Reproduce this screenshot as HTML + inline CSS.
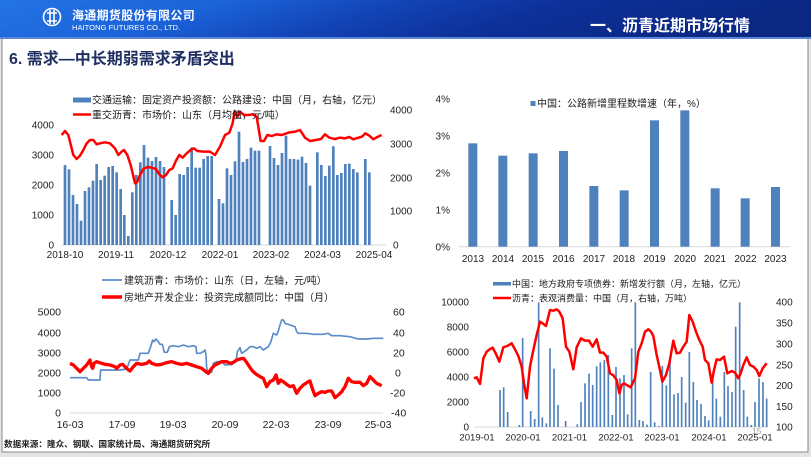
<!DOCTYPE html>
<html><head><meta charset="utf-8"><style>
html,body{margin:0;padding:0;width:811px;height:457px;overflow:hidden;background:#e4e4e4;}
svg{display:block;}
text{font-family:"Liberation Sans","Noto Sans CJK SC",sans-serif;}
.ax{font-size:10px;fill:#222;}
.lg{font-size:10px;fill:#1a1a1a;font-family:"Liberation Sans","Noto Sans CJK SC",sans-serif;}
</style></head><body>
<svg width="811" height="457" viewBox="0 0 811 457" xmlns="http://www.w3.org/2000/svg">
<defs>
<linearGradient id="hg" x1="0" y1="0" x2="1" y2="0.15">
<stop offset="0" stop-color="#2374e4"/>
<stop offset="0.28" stop-color="#1b63d9"/>
<stop offset="0.5" stop-color="#1243b5"/>
<stop offset="0.7" stop-color="#0d3099"/>
<stop offset="1" stop-color="#0a2782"/>
</linearGradient>
</defs>
<!-- page frame -->
<rect x="0" y="0" width="811" height="457" fill="#e4e4e4"/>
<rect x="2" y="38" width="806" height="414" fill="#ffffff" stroke="#8a8a8a" stroke-width="1"/>
<!-- header -->
<rect x="0" y="0" width="811" height="38" fill="url(#hg)"/>
<rect x="0" y="37" width="811" height="2" fill="#5d86d6"/>
<g stroke="#fff" fill="none" stroke-width="1.6">
<circle cx="52" cy="17" r="8.5"/>
<path d="M47 13 H57 M47 21 H57 M50 10 V24 M54 10 V24"/>
</g>
<text x="72" y="19.5" font-size="12" font-weight="bold" fill="#fff" font-family="'Noto Serif CJK SC',serif" letter-spacing="0.3">海通期货股份有限公司</text>
<text x="72" y="30" font-size="7.6" fill="#fff" font-family="'Liberation Sans',sans-serif">HAITONG FUTURES CO., LTD.</text>
<text x="590" y="31" font-size="16" fill="#fff" font-family="'Noto Serif CJK SC',serif" font-weight="bold">一、沥青近期市场行情</text>
<!-- title -->
<text x="9" y="64" font-size="16" font-weight="bold" fill="#1f2f62" font-family="'Liberation Serif','Noto Serif CJK SC',serif">6. 需求—中长期弱需求矛盾突出</text>

<!-- ============ TOP LEFT ============ -->
<line x1="62" y1="245" x2="386" y2="245" stroke="#d9d9d9" stroke-width="1"/>
<g transform="translate(40 85) scale(0.33333)" fill="#4f81bd">
<rect x="71" y="240" width="8" height="240"/><rect x="83" y="253" width="8" height="227"/><rect x="95" y="330" width="8" height="150"/><rect x="107" y="357" width="8" height="123"/><rect x="119" y="407" width="8" height="73"/><rect x="131" y="318" width="8" height="162"/><rect x="143" y="307" width="8" height="173"/><rect x="155" y="287" width="8" height="193"/><rect x="166" y="237" width="8" height="243"/><rect x="178" y="285" width="8" height="195"/><rect x="190" y="272" width="8" height="208"/><rect x="202" y="246" width="8" height="234"/><rect x="214" y="243" width="8" height="237"/><rect x="226" y="262" width="8" height="218"/><rect x="238" y="312" width="8" height="168"/><rect x="249" y="390" width="8" height="90"/><rect x="261" y="453" width="8" height="27"/><rect x="273" y="322" width="8" height="158"/><rect x="285" y="270" width="8" height="210"/><rect x="297" y="232" width="8" height="248"/><rect x="308" y="180" width="8" height="300"/><rect x="320" y="218" width="8" height="262"/><rect x="332" y="228" width="8" height="252"/><rect x="344" y="216" width="8" height="264"/><rect x="356" y="228" width="8" height="252"/><rect x="368" y="246" width="8" height="234"/>
<rect x="391" y="345" width="8" height="135"/><rect x="403" y="390" width="8" height="90"/><rect x="415" y="267" width="8" height="213"/><rect x="427" y="270" width="8" height="210"/><rect x="439" y="246" width="8" height="234"/><rect x="451" y="187" width="8" height="293"/><rect x="463" y="248" width="8" height="232"/><rect x="475" y="248" width="8" height="232"/><rect x="487" y="222" width="8" height="258"/><rect x="499" y="213" width="8" height="267"/><rect x="511" y="213" width="8" height="267"/>
<rect x="533" y="342" width="8" height="138"/><rect x="545" y="355" width="8" height="125"/><rect x="557" y="250" width="8" height="230"/><rect x="569" y="270" width="8" height="210"/><rect x="581" y="229" width="8" height="251"/><rect x="593" y="140" width="8" height="340"/><rect x="605" y="231" width="8" height="249"/><rect x="617" y="222" width="8" height="258"/><rect x="629" y="188" width="8" height="292"/><rect x="641" y="197" width="8" height="283"/><rect x="653" y="197" width="8" height="283"/>
<rect x="686" y="183" width="8" height="297"/><rect x="698" y="219" width="8" height="261"/><rect x="710" y="240" width="8" height="240"/><rect x="722" y="204" width="8" height="276"/><rect x="734" y="152" width="8" height="328"/><rect x="746" y="222" width="8" height="258"/><rect x="758" y="222" width="8" height="258"/><rect x="770" y="224" width="8" height="256"/><rect x="782" y="215" width="8" height="265"/><rect x="794" y="234" width="8" height="246"/><rect x="806" y="302" width="8" height="178"/>
<rect x="828" y="202" width="8" height="278"/><rect x="840" y="240" width="8" height="240"/><rect x="852" y="273" width="8" height="207"/><rect x="864" y="242" width="8" height="238"/><rect x="876" y="184" width="8" height="296"/><rect x="888" y="270" width="8" height="210"/><rect x="900" y="264" width="8" height="216"/><rect x="912" y="237" width="8" height="243"/><rect x="924" y="236" width="8" height="244"/><rect x="936" y="252" width="8" height="228"/><rect x="948" y="262" width="8" height="218"/>
<rect x="972" y="222" width="8" height="258"/><rect x="984" y="262" width="8" height="218"/>
<path fill="none" stroke="#ff0000" stroke-width="7.5" stroke-linejoin="round" d="M65,150 L75,138 L85,150 L95,190 L100,210 L110,222 L120,212 L130,195 L140,175 L150,165 L160,165 L170,178 L180,175 L195,172 L210,175 L225,190 L235,210 L245,200 L252,195 L262,210 L272,240 L285,295 L292,290 L300,270 L310,252 L322,246 L335,248 L348,252 L358,268 L368,277 L378,270 L388,255 L398,250 L408,227 L418,210 L428,218 L440,205 L452,195 L462,190 L472,198 L490,200 L510,200 L525,210 L540,185 L555,150 L568,143 L578,115 L584,78 L592,95 L600,80 L612,90 L625,90 L638,88 L650,95 L662,168 L672,168 L682,150 L695,153 L710,148 L725,150 L745,143 L765,140 L780,135 L795,158 L810,168 L828,165 L843,162 L855,148 L868,158 L885,162 L900,158 L915,160 L928,156 L940,163 L955,158 L966,155 L976,145 L988,152 L1000,163 L1012,156 L1025,150"/>
</g>
<g class="ax" text-anchor="end">
<text x="54" y="128.5">4000</text><text x="54" y="158.5">3000</text><text x="54" y="188.5">2000</text><text x="54" y="218.5">1000</text><text x="54" y="248.5">0</text>
</g>
<g class="ax">
<text x="390" y="113.5">4000</text><text x="390" y="147.5">3000</text><text x="390" y="181.5">2000</text><text x="390" y="214.5">1000</text><text x="393" y="248.5">0</text>
</g>
<g class="ax" text-anchor="middle">
<text x="65" y="258">2018-10</text><text x="116" y="258">2019-11</text><text x="168" y="258">2020-12</text><text x="220" y="258">2022-01</text><text x="271" y="258">2023-02</text><text x="322.5" y="258">2024-03</text><text x="374" y="258">2025-04</text>
</g>
<rect x="73" y="97.5" width="18" height="5" fill="#4f81bd"/>
<text class="lg" x="92" y="103.5">交通运输：固定资产投资额：公路建设：中国（月，右轴，亿元）</text>
<line x1="73" y1="114.5" x2="91" y2="114.5" stroke="#ff0000" stroke-width="2.5"/>
<text class="lg" x="92" y="118.5">重交沥青：市场价：山东（月均值，元/吨）</text>

<!-- ============ BOTTOM LEFT ============ -->
<line x1="70" y1="413" x2="383" y2="413" stroke="#d9d9d9" stroke-width="1"/>
<g transform="translate(30 265) scale(0.33333)" fill="none" stroke-linejoin="round">
<path stroke="#5b8bc9" stroke-width="5" d="M120,338 L170,338 L175,345 L210,345 L212,315 L270,315 L290,312 L300,285 L325,285 L330,265 L355,265 L362,245 L368,225 L372,230 L378,222 L385,230 L390,238 L397,238 L403,262 L412,262 L418,245 L430,242 L445,245 L460,240 L475,245 L490,242 L498,245 L500,265 L510,265 L520,260 L525,255 L528,270 L530,310 L535,322 L545,322 L550,295 L560,290 L575,290 L585,300 L600,298 L605,300 L610,295 L618,290 L622,260 L630,248 L635,265 L650,255 L660,245 L670,245 L680,250 L690,245 L700,255 L715,245 L722,232 L730,205 L740,210 L745,198 L750,180 L755,165 L760,165 L765,175 L780,180 L795,185 L800,200 L805,205 L830,205 L850,208 L880,208 L895,205 L905,212 L930,212 L960,215 L985,222 L1010,222 L1030,220 L1060,220"/>
<path stroke="#ff0000" stroke-width="10" d="M120,295 L130,300 L140,310 L150,320 L160,310 L170,300 L180,285 L185,305 L188,310 L192,295 L200,290 L215,295 L225,298 L240,300 L255,305 L260,310 L270,300 L278,298 L285,305 L295,315 L300,318 L310,305 L320,295 L335,298 L350,295 L358,288 L365,295 L380,300 L395,298 L410,293 L425,290 L440,295 L455,298 L470,295 L485,300 L500,305 L515,310 L530,322 L535,325 L545,310 L555,300 L565,295 L575,290 L590,290 L600,295 L610,292 L620,285 L630,282 L640,280 L645,285 L655,300 L665,315 L675,325 L690,335 L700,340 L710,365 L720,350 L730,345 L738,330 L745,355 L752,345 L760,350 L770,358 L780,365 L790,362 L800,385 L810,370 L820,360 L835,350 L840,348 L845,365 L855,392 L865,385 L875,380 L885,382 L895,378 L905,378 L915,398 L925,390 L935,380 L945,365 L955,340 L965,350 L975,352 L990,352 L1000,362 L1010,355 L1020,335 L1030,345 L1040,355 L1055,362"/>
</g>
<g class="ax" text-anchor="end" style="font-size:10.5px">
<text x="61" y="315.5">5000</text><text x="61" y="336.5">4000</text><text x="61" y="356.5">3000</text><text x="61" y="376.5">2000</text><text x="61" y="396.5">1000</text><text x="61" y="416.5">0</text>
</g>
<g class="ax" style="font-size:10.5px">
<text x="393" y="315.5">60</text><text x="393" y="336.5">40</text><text x="393" y="356.5">20</text><text x="395" y="376.5">0</text><text x="390" y="396.5">-20</text><text x="391" y="416.5">-40</text>
</g>
<g class="ax" text-anchor="middle" style="font-size:10.5px">
<text x="70" y="428">16-03</text><text x="122" y="428">17-09</text><text x="173" y="428">19-03</text><text x="225" y="428">20-09</text><text x="276" y="428">22-03</text><text x="328" y="428">23-09</text><text x="378" y="428">25-03</text>
</g>
<line x1="102" y1="280" x2="122" y2="280" stroke="#5b8bc9" stroke-width="1.7"/>
<text class="lg" x="124" y="284">建筑沥青：市场价：山东（日，左轴，元/吨）</text>
<line x1="102" y1="297" x2="122" y2="297" stroke="#ff0000" stroke-width="3.5"/>
<text class="lg" x="124" y="301">房地产开发企业：投资完成额同比：中国（月）</text>

<!-- ============ TOP RIGHT ============ -->
<line x1="459" y1="246.7" x2="790" y2="246.7" stroke="#d9d9d9" stroke-width="1"/>
<g transform="translate(420 85) scale(0.33333)" fill="#4f81bd">
<rect x="145" y="175" width="27" height="310"/><rect x="235" y="212" width="27" height="273"/><rect x="326" y="205" width="27" height="280"/><rect x="417" y="198" width="27" height="287"/><rect x="508" y="303" width="27" height="182"/><rect x="599" y="316" width="27" height="169"/><rect x="690" y="106" width="27" height="379"/><rect x="781" y="76" width="27" height="409"/><rect x="872" y="310" width="27" height="175"/><rect x="962" y="340" width="27" height="145"/><rect x="1053" y="306" width="27" height="179"/>
</g>
<g class="ax" text-anchor="end">
<text x="450" y="102.5">4%</text><text x="450" y="139.5">3%</text><text x="450" y="176.5">2%</text><text x="450" y="213.5">1%</text><text x="450" y="250.5">0%</text>
</g>
<g class="ax" text-anchor="middle">
<text x="473" y="262">2013</text><text x="503" y="262">2014</text><text x="533" y="262">2015</text><text x="563.5" y="262">2016</text><text x="594" y="262">2017</text><text x="624" y="262">2018</text><text x="654.5" y="262">2019</text><text x="685" y="262">2020</text><text x="715" y="262">2021</text><text x="745.5" y="262">2022</text><text x="775.5" y="262">2023</text>
</g>
<rect x="530.5" y="101" width="5" height="5" fill="#4f81bd"/>
<text class="lg" x="537" y="107">中国：公路新增里程数增速（年，%）</text>

<!-- ============ BOTTOM RIGHT ============ -->
<line x1="474" y1="427" x2="768" y2="427" stroke="#d9d9d9" stroke-width="1"/>
<g transform="translate(420 270) scale(0.33333)" fill="#4f81bd">
<rect x="237.5" y="360" width="5" height="111"/><rect x="248.5" y="352" width="5" height="119"/><rect x="260.5" y="426" width="5" height="45"/><rect x="295.5" y="465" width="5" height="6"/><rect x="305.5" y="204" width="5" height="267"/><rect x="329.5" y="423" width="5" height="48"/><rect x="341.5" y="447" width="5" height="24"/><rect x="353.5" y="97" width="5" height="374"/><rect x="364.5" y="442" width="5" height="29"/><rect x="376.5" y="460" width="5" height="11"/><rect x="387.5" y="235" width="5" height="236"/><rect x="399.5" y="296" width="5" height="175"/><rect x="411.5" y="405" width="5" height="66"/><rect x="434.5" y="453" width="5" height="18"/><rect x="469.5" y="463" width="5" height="8"/><rect x="480.5" y="396" width="5" height="75"/><rect x="492.5" y="340" width="5" height="131"/><rect x="504.5" y="311" width="5" height="160"/><rect x="515.5" y="345" width="5" height="126"/><rect x="527.5" y="289" width="5" height="182"/><rect x="538.5" y="277" width="5" height="194"/><rect x="550.5" y="270" width="5" height="201"/><rect x="562.5" y="255" width="5" height="216"/><rect x="574.5" y="435" width="5" height="36"/><rect x="585.5" y="291" width="5" height="180"/><rect x="597.5" y="325" width="5" height="146"/><rect x="609.5" y="315" width="5" height="156"/><rect x="620.5" y="433" width="5" height="38"/><rect x="632.5" y="235" width="5" height="236"/><rect x="643.5" y="97" width="5" height="374"/><rect x="655.5" y="450" width="5" height="21"/><rect x="666.5" y="453" width="5" height="18"/><rect x="678.5" y="464" width="5" height="7"/><rect x="689.5" y="306" width="5" height="165"/><rect x="701.5" y="457" width="5" height="14"/><rect x="713.5" y="468" width="5" height="3"/><rect x="724.5" y="288" width="5" height="183"/><rect x="736.5" y="346" width="5" height="125"/><rect x="747.5" y="272" width="5" height="199"/><rect x="759.5" y="373" width="5" height="98"/><rect x="771.5" y="369" width="5" height="102"/><rect x="782.5" y="321" width="5" height="150"/><rect x="794.5" y="398" width="5" height="73"/><rect x="805.5" y="246" width="5" height="225"/><rect x="817.5" y="336" width="5" height="135"/><rect x="828.5" y="390" width="5" height="81"/><rect x="840.5" y="402" width="5" height="69"/><rect x="852.5" y="438" width="5" height="33"/><rect x="863.5" y="451" width="5" height="20"/><rect x="875.5" y="330" width="5" height="141"/><rect x="886.5" y="386" width="5" height="85"/><rect x="898.5" y="440" width="5" height="31"/><rect x="910.5" y="306" width="5" height="165"/><rect x="921.5" y="348" width="5" height="123"/><rect x="933.5" y="366" width="5" height="105"/><rect x="944.5" y="170" width="5" height="301"/><rect x="956.5" y="97" width="5" height="374"/><rect x="968.5" y="360" width="5" height="111"/><rect x="979.5" y="440" width="5" height="31"/><rect x="991.5" y="465" width="5" height="6"/><rect x="1002.5" y="396" width="5" height="75"/><rect x="1014.5" y="325" width="5" height="146"/><rect x="1026.5" y="336" width="5" height="135"/><rect x="1037.5" y="386" width="5" height="85"/>
<path fill="none" stroke="#ff0000" stroke-width="7.5" stroke-linejoin="round" d="M162,325 L170,322 L180,342 L190,265 L200,245 L210,237 L218,233 L228,252 L238,275 L250,232 L262,228 L275,220 L285,238 L295,258 L305,290 L312,340 L320,385 L330,290 L340,240 L350,195 L360,155 L368,160 L378,168 L390,120 L400,122 L410,118 L418,125 L428,145 L438,230 L448,245 L460,298 L470,232 L483,205 L495,212 L507,212 L518,230 L530,208 L540,248 L550,248 L560,260 L570,310 L580,316 L590,330 L598,370 L605,345 L612,340 L620,345 L632,352 L645,325 L655,245 L665,220 L675,185 L685,178 L693,185 L700,198 L710,255 L720,300 L727,335 L738,315 L748,280 L760,212 L770,250 L780,248 L790,230 L800,215 L808,135 L818,155 L828,185 L838,210 L848,230 L855,270 L865,280 L875,338 L882,300 L890,268 L900,270 L912,260 L922,310 L935,303 L945,308 L955,325 L962,310 L970,285 L980,262 L990,285 L1000,290 L1010,300 L1018,318 L1028,295 L1040,280"/>
</g>
<g class="ax" text-anchor="end">
<text x="469" y="305.5">10000</text><text x="469" y="330.5">8000</text><text x="469" y="355.5">6000</text><text x="469" y="380.5">4000</text><text x="469" y="405.5">2000</text><text x="469" y="430.5">0</text>
</g>
<g class="ax">
<text x="776" y="305.5">400</text><text x="776" y="326.5">350</text><text x="776" y="347.5">300</text><text x="776" y="368.5">250</text><text x="776" y="389">200</text><text x="776" y="410">150</text><text x="776" y="430.5">100</text>
</g>
<g class="ax" text-anchor="middle" style="font-size:9.6px">
<text x="477" y="440.5">2019-01</text><text x="523" y="440.5">2020-01</text><text x="569.5" y="440.5">2021-01</text><text x="616" y="440.5">2022-01</text><text x="662" y="440.5">2023-01</text><text x="709" y="440.5">2024-01</text><text x="755" y="440.5">2025-01</text>
</g>
<text x="752" y="434" font-size="8.5" fill="#9a9a9a" font-family="'Liberation Sans',sans-serif">15</text>
<rect x="493" y="282" width="18" height="3.5" fill="#4f81bd"/>
<text class="lg" x="512" y="287" style="font-size:9px">中国：地方政府专项债券：新增发行额（月，左轴，亿元）</text>
<line x1="493" y1="298" x2="511" y2="298" stroke="#ff0000" stroke-width="2.5"/>
<text class="lg" x="512" y="301.5" style="font-size:9px">沥青：表观消费量：中国（月，右轴，万吨）</text>

<!-- footer -->
<text x="4" y="447" font-size="8.6" font-weight="bold" fill="#222" font-family="'Noto Serif CJK SC',serif">数据来源：隆众、钢联、国家统计局、海通期货研究所</text>
</svg>
</body></html>
